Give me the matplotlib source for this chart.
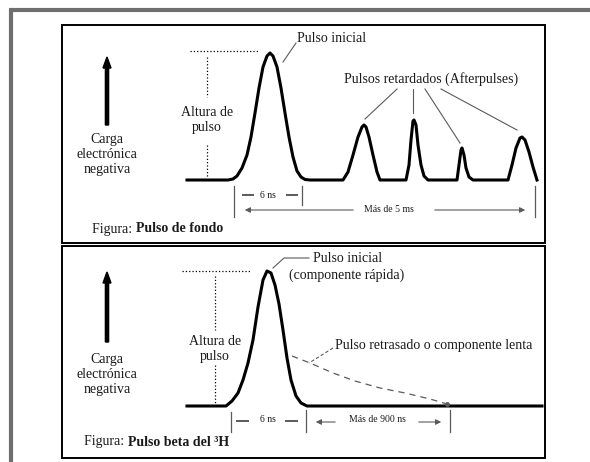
import matplotlib
matplotlib.use("Agg")
import matplotlib.pyplot as plt
from matplotlib.patches import Rectangle

plt.rcParams['font.family'] = ['Liberation Serif', 'DejaVu Serif']

# --- data (pixel units of the 590x462 image) ---
# top panel: background pulse followed by afterpulses
top_x = [187, 228, 233, 237, 242, 247, 251, 255, 259, 263, 267, 270, 273, 277, 281, 285, 289, 293, 297, 301, 305, 310,
         343, 348, 353, 358, 362, 364, 366, 369, 373, 377, 380,
         406, 409, 411, 413, 414, 416, 418, 421, 424, 428,
         457, 459, 461, 462, 464, 466, 469, 473,
         508, 512, 516, 520, 522, 525, 529, 533, 537]
top_y = [180, 180, 179, 176, 168, 155, 137, 113, 88, 67, 56, 53, 56, 67, 88, 113, 137, 157, 171, 177, 179.5, 180,
         180, 172, 155, 137, 127, 125, 127, 137, 155, 172, 180,
         180, 165, 140, 121, 120, 125, 145, 165, 176, 180,
         180, 165, 150, 148, 155, 168, 177, 180,
         180, 165, 148, 138, 137, 140, 152, 167, 180]

# bottom panel: beta pulse of tritium
bot_x = [187, 226, 232, 238, 243, 248, 253, 258, 263, 267, 271, 275, 279, 283, 287, 291, 296, 301, 307, 542]
bot_y = [406, 406, 401, 393, 380, 363, 340, 307, 280, 271, 273, 285, 304, 330, 358, 380, 396, 403, 406, 406]

# slow component (dashed tail)
slow_x = [292, 310, 333, 355, 380, 405, 430, 447]
slow_y = [356, 363, 373, 381, 388, 393, 399, 404]

# afterpulse peaks pointed by the leader lines
ap_peak_x = [365, 413, 460, 517]
ap_peak_y = [119, 113, 143, 130]
ap_from_x = [397, 413, 425, 441]

txt = '#1a1a1a'
grey = '#5a5a5a'
fs = 10
fs_small = 7

fig = plt.figure(figsize=(5.9, 4.62), dpi=100)
ax = fig.add_axes([0, 0, 1, 1])
ax.set_xlim(0, 590)
ax.set_ylim(462, 0)
ax.axis('off')

# outer grey frame
ax.plot([10.5, 10.5], [462, 9], color='#6e6e6e', lw=3, solid_capstyle='butt')
ax.plot([9, 590], [9.5, 9.5], color='#6e6e6e', lw=3, solid_capstyle='butt')

# panel boxes
ax.add_patch(Rectangle((62, 25), 483, 218, fill=False, ec='black', lw=1.4))
ax.add_patch(Rectangle((62, 246), 483, 212, fill=False, ec='black', lw=1.4))

# ---------------- top panel ----------------
ax.plot(top_x, top_y, color='black', lw=2.2, solid_joinstyle='round')

ax.arrow(107, 125, 0, -68, width=3.2, head_width=8, head_length=11,
         length_includes_head=True, color='black')
ax.text(107, 155, 'Carga\nelectrónica\nnegativa', ha='center', va='center',
        fontsize=fs, color=txt, linespacing=1.2)

ax.plot([190, 258], [51, 51], color='black', lw=0.9, ls=':')
ax.plot([207, 207], [57, 97], color='black', lw=0.9, ls=':')
ax.plot([207, 207], [145, 178], color='black', lw=0.9, ls=':')
ax.text(207, 120, 'Altura de\npulso', ha='center', va='center',
        fontsize=fs, color=txt, linespacing=1.2)

ax.text(297, 38, 'Pulso inicial', ha='left', va='center', fontsize=fs, color=txt)
ax.plot([283, 296], [62, 43], color=grey, lw=0.8)

ax.text(431, 79, 'Pulsos retardados (Afterpulses)', ha='center', va='center',
        fontsize=fs, color=txt)
for fx, px, py in zip(ap_from_x, ap_peak_x, ap_peak_y):
    ax.plot([fx, px], [89, py], color=grey, lw=0.8)

# dimension marks
ax.plot([234, 234], [186, 217], color=grey, lw=0.9)
ax.plot([302, 302], [186, 205], color=grey, lw=0.9)
ax.plot([535, 535], [186, 217], color=grey, lw=0.9)
ax.text(268, 195, '6 ns', ha='center', va='center', fontsize=fs_small, color=txt)
ax.plot([243, 253], [195, 195], color=grey, lw=1.4)
ax.plot([287, 297], [195, 195], color=grey, lw=1.4)
ax.annotate('', xy=(242, 210), xytext=(356, 210),
            arrowprops=dict(arrowstyle='-|>', color=grey, lw=0.8, mutation_scale=8))
ax.annotate('', xy=(528, 210), xytext=(432, 210),
            arrowprops=dict(arrowstyle='-|>', color=grey, lw=0.8, mutation_scale=8))
ax.text(389, 209, 'Más de 5 ms', ha='center', va='center', fontsize=fs_small, color=txt)

t1 = ax.text(92, 229, 'Figura: ', ha='left', va='center', fontsize=fs, color=txt)
ax.annotate('Pulso de fondo', xy=(1, 0), xycoords=t1, va='bottom', ha='left',
            fontsize=fs, fontweight='bold', color=txt)

# ---------------- bottom panel ----------------
ax.plot(bot_x, bot_y, color='black', lw=2.2, solid_joinstyle='round')
ax.plot(slow_x, slow_y, color=grey, lw=0.9, ls=(0, (5, 4)))
ax.plot(slow_x[-1], slow_y[-1], 'o', color=grey, ms=2.5)

ax.arrow(107, 342, 0, -70, width=3.2, head_width=8, head_length=11,
         length_includes_head=True, color='black')
ax.text(107, 374, 'Carga\nelectrónica\nnegativa', ha='center', va='center',
        fontsize=fs, color=txt, linespacing=1.2)

ax.plot([182, 250], [271, 271], color='black', lw=0.9, ls=':')
ax.plot([215, 215], [276, 330], color='black', lw=0.9, ls=':')
ax.plot([215, 215], [365, 405], color='black', lw=0.9, ls=':')
ax.text(215, 349, 'Altura de\npulso', ha='center', va='center',
        fontsize=fs, color=txt, linespacing=1.2)

ax.plot([273, 284, 309], [268, 258, 258], color=grey, lw=0.8)
ax.text(313, 258, 'Pulso inicial', ha='left', va='center', fontsize=fs, color=txt)
ax.text(347, 275, '(componente rápida)', ha='center', va='center', fontsize=fs, color=txt)

ax.text(335, 345, 'Pulso retrasado o componente lenta', ha='left', va='center',
        fontsize=fs, color=txt)
ax.plot([333, 309], [348, 363], color=grey, lw=0.8, ls=(0, (3, 2)))

ax.plot([231, 231], [412, 432], color=grey, lw=0.9)
ax.plot([306, 306], [410, 432], color=grey, lw=0.9)
ax.plot([450, 450], [410, 432], color=grey, lw=0.9)
ax.text(268, 420, '6 ns', ha='center', va='center', fontsize=fs_small, color=txt)
ax.plot([237, 248], [421, 421], color=grey, lw=1.4)
ax.plot([286, 297], [421, 421], color=grey, lw=1.4)
ax.annotate('', xy=(313, 422), xytext=(338, 422),
            arrowprops=dict(arrowstyle='-|>', color=grey, lw=0.8, mutation_scale=8))
ax.annotate('', xy=(444, 422), xytext=(416, 422),
            arrowprops=dict(arrowstyle='-|>', color=grey, lw=0.8, mutation_scale=8))
ax.text(377, 420, 'Más de 900 ns', ha='center', va='center', fontsize=fs_small, color=txt)

t2 = ax.text(84, 442, 'Figura: ', ha='left', va='center', fontsize=fs, color=txt)
ax.annotate('Pulso beta del ³H', xy=(1, 0), xycoords=t2, va='bottom', ha='left',
            fontsize=fs, fontweight='bold', color=txt)

fig.savefig('out.png', dpi=100, facecolor='white')
